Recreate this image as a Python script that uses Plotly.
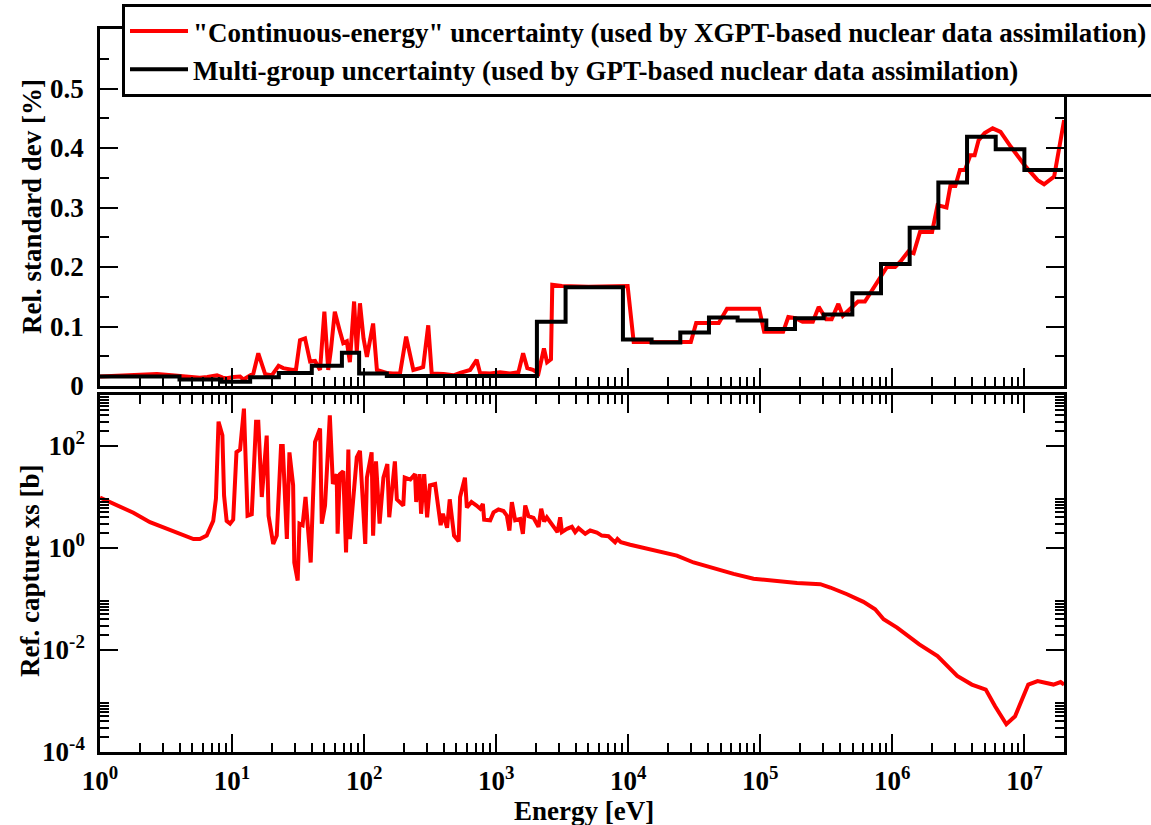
import math
import plotly.graph_objects as go

# ---------------- data ----------------
# Multi-group structure (group boundaries, eV) and multi-group uncertainty (%)
mg_edges = [1.0, 4.0, 8.315, 13.71, 22.60, 40.17, 67.90, 91.66, 148.6, 304.3, 454.0,
            748.5, 1234.0, 2035.0, 3355.0, 5531.0, 9119.0, 15030.0, 24790.0, 40870.0,
            67380.0, 111100.0, 183200.0, 302000.0, 497900.0, 820800.0, 1.353e6,
            2.231e6, 3.679e6, 6.065e6, 1.0e7, 1.964e7]
mg_unc = [0.016, 0.011, 0.007, 0.0146, 0.022, 0.034, 0.056, 0.021, 0.017, 0.017, 0.017,
          0.017, 0.017, 0.108, 0.166, 0.166, 0.078, 0.073, 0.090, 0.115, 0.110, 0.096,
          0.114, 0.120, 0.156, 0.205, 0.266, 0.342, 0.419, 0.398, 0.363]

# "Continuous-energy" uncertainty (%)
ce_energy = [1.0, 1.5, 2.0, 2.7, 3.5, 4.2, 5.0, 5.7, 6.5, 7.7, 8.5, 9.1, 10.3, 11.5, 12.2,
             13.5, 14.5, 15.8, 17.8, 20.0, 22.5, 24.4, 26.6, 29.0, 30.5, 32.7, 35.7, 39.0,
             42.5, 46.4, 50.0, 53.5, 56.0, 60.0, 65.0, 69.5, 74.0, 78.0, 84.0, 88.0, 93.0,
             99.0, 105.0, 117.0, 125.0, 135.0, 148.0, 165.0, 187.0, 208.0, 236.0, 265.0,
             280.0, 306.0, 325.0, 400.0, 475.0, 533.0, 635.0, 712.0, 755.0, 900.0, 1070.0,
             1275.0, 1475.0, 1600.0, 1720.0, 1900.0, 2090.0, 2300.0, 2430.0, 2600.0,
             2660.0, 3150.0, 5000.0, 9900.0, 11000.0, 29800.0, 32700.0, 48500.0, 56000.0,
             98000.0, 107000.0, 149000.0, 163000.0, 185000.0, 209000.0, 250000.0,
             277000.0, 316000.0, 347000.0, 390000.0, 422000.0, 465000.0, 550000.0,
             620000.0, 730000.0, 830000.0, 910000.0, 1.05e6, 1.15e6, 1.32e6, 1.45e6,
             1.62e6, 2.0e6, 2.2e6, 2.57e6, 2.75e6, 3.0e6, 3.25e6, 3.55e6, 3.9e6, 4.2e6,
             4.5e6, 5.0e6, 5.75e6, 6.6e6, 7.9e6, 1.02e7, 1.26e7, 1.41e7, 1.68e7, 1.84e7,
             2.0e7]
ce_unc = [0.016, 0.018, 0.020, 0.020, 0.018, 0.016, 0.014, 0.014, 0.015, 0.018, 0.014,
          0.013, 0.015, 0.016, 0.011, 0.016, 0.021, 0.055, 0.020, 0.018, 0.034, 0.030,
          0.028, 0.027, 0.028, 0.077, 0.080, 0.041, 0.042, 0.027, 0.125, 0.027, 0.060,
          0.125, 0.095, 0.072, 0.075, 0.040, 0.142, 0.058, 0.139, 0.080, 0.049, 0.105,
          0.027, 0.024, 0.022, 0.021, 0.021, 0.083, 0.027, 0.030, 0.032, 0.102, 0.021,
          0.020, 0.018, 0.022, 0.027, 0.044, 0.022, 0.021, 0.023, 0.021, 0.023, 0.055,
          0.030, 0.027, 0.021, 0.063, 0.040, 0.045, 0.170, 0.168, 0.167, 0.168, 0.074,
          0.074, 0.106, 0.106, 0.130, 0.130, 0.091, 0.091, 0.116, 0.114, 0.108, 0.108,
          0.133, 0.112, 0.112, 0.138, 0.118, 0.127, 0.142, 0.142, 0.167, 0.189, 0.200,
          0.200, 0.209, 0.226, 0.223, 0.259, 0.259, 0.304, 0.300, 0.336, 0.336, 0.363,
          0.363, 0.388, 0.388, 0.413, 0.425, 0.433, 0.427, 0.402, 0.369, 0.346, 0.339,
          0.352, 0.402, 0.447]

# Reference capture cross section (b)
xs_energy = [1.0, 1.3, 1.79, 2.39, 3.2, 4.27, 5.1, 5.7, 6.43, 7.2, 7.55, 7.9, 8.45, 8.7,
             9.1, 9.66, 10.2, 10.8, 11.5, 12.3, 13.1, 14.1, 15.2, 15.8, 16.8, 18.3, 18.9,
             20.5, 21.8, 23.5, 24.2, 26.0, 27.2, 29.0, 29.6, 31.4, 32.4, 34.2, 36.0, 39.4,
             42.5, 46.4, 47.8, 50.6, 55.0, 58.0, 62.0, 63.0, 65.5, 69.5, 73.0, 76.0, 78.0,
             88.0, 93.0, 102.0, 105.0, 114.0, 117.0, 123.0, 131.0, 140.0, 150.0, 155.0,
             171.0, 177.0, 198.0, 203.0, 224.0, 243.0, 248.0, 263.0, 270.0, 285.0, 300.0,
             315.0, 345.0, 380.0, 395.0, 425.0, 445.0, 480.0, 520.0, 533.0, 580.0, 600.0,
             650.0, 710.0, 757.0, 793.0, 811.0, 901.0, 955.0, 1040.0, 1136.0, 1205.0,
             1260.0, 1315.0, 1393.0, 1520.0, 1593.0, 1660.0, 1758.0, 1918.0, 2092.0,
             2193.0, 2310.0, 2420.0, 2643.0, 2914.0, 3053.0, 3146.0, 3433.0, 3745.0,
             3965.0, 4203.0, 4726.0, 5152.0, 5790.0, 6313.0, 7085.0, 7950.0, 8290.0,
             8800.0, 10350.0, 13800.0, 17980.0, 23370.0, 31240.0, 44300.0, 62800.0,
             88900.0, 126000.0, 190000.0, 285000.0, 339000.0, 454000.0, 604000.0,
             741000.0, 859000.0, 1.086e6, 1.6e6, 2.2e6, 3.1e6, 4.0e6, 5.1e6, 6.0e6,
             7.3e6, 8.5e6, 1.07e7, 1.26e7, 1.66e7, 1.88e7, 2.0e7]
xs_capture = [9.8, 7.2, 4.9, 3.2, 2.37, 1.75, 1.50, 1.50, 1.75, 3.4, 9.2, 300.0, 162.0,
              10.7, 3.4, 3.0, 3.6, 76.0, 85.0, 540.0, 4.3, 4.6, 300.0, 300.0, 10.0, 160.0,
              4.3, 1.2, 1.75, 100.0, 100.0, 1.5, 75.0, 17.0, 0.52, 0.23, 3.0, 2.8, 10.0,
              0.52, 120.0, 220.0, 3.0, 6.8, 400.0, 18.0, 28.0, 1.9, 28.0, 32.0, 0.82, 85.0,
              1.5, 60.0, 80.0, 1.2, 24.0, 75.0, 1.75, 50.0, 3.0, 24.0, 44.0, 4.0, 50.0,
              9.0, 6.8, 24.0, 22.0, 28.0, 8.0, 28.0, 4.7, 28.0, 4.0, 17.0, 18.0, 2.8, 4.7,
              2.5, 9.0, 1.75, 1.35, 10.0, 24.0, 6.2, 8.0, 6.8, 5.9, 7.3, 3.6, 3.5, 5.0,
              5.7, 5.3, 4.3, 2.2, 7.9, 3.5, 3.7, 1.9, 6.8, 4.2, 3.9, 2.6, 5.9, 3.3, 4.0,
              3.0, 2.05, 4.0, 2.05, 2.37, 2.6, 2.05, 2.45, 1.9, 2.2, 2.0, 1.75, 1.7, 1.29,
              1.5, 1.3, 1.16, 0.99, 0.82, 0.71, 0.52, 0.40, 0.31, 0.25, 0.23, 0.205, 0.195,
              0.168, 0.124, 0.088, 0.063, 0.040, 0.0275, 0.0129, 0.0076, 0.0031, 0.0021,
              0.00167, 0.00079, 0.00035, 0.0005, 0.0021, 0.00245, 0.0021, 0.00235, 0.0021]

x_tick_exps = [0, 1, 2, 3, 4, 5, 6, 7]
y2_tick_exps = [-4, -2, 0, 2]
y1_ticks = [0, 0.1, 0.2, 0.3, 0.4, 0.5]
y1_ticklabels = ["0", "0.1", "0.2", "0.3", "0.4", "0.5"]

legend_ce = '"Continuous-energy" uncertainty (used by XGPT-based nuclear data assimilation)'
legend_mg = 'Multi-group uncertainty (used by GPT-based nuclear data assimilation)'
title_y1 = "Rel. standard dev [%]"
title_y2 = "Ref. capture xs [b]"
title_x = "Energy [eV]"

# ---------------- figure ----------------
FONT = "Liberation Serif"
FS = 27
W, H = 1151, 825
ML, MR, MT, MB = 100, 87, 29, 73
plot_w = W - ML - MR
plot_h = H - MT - MB
top_bottom_px = 386
bottom_top_px = 395


def px_x(px):
    return (px - ML) / plot_w


def px_y(py):
    return (H - MB - py) / plot_h


x_minor = [k * 10 ** n for n in range(0, 8) for k in range(2, 10) if k * 10 ** n <= 2e7]
y2_minor = [k * 10.0 ** n for n in y2_tick_exps for k in range(2, 10)]

fig = go.Figure()

mg_x = list(mg_edges)
mg_y = list(mg_unc) + [mg_unc[-1]]

fig.add_trace(go.Scatter(x=ce_energy, y=ce_unc, mode="lines", name=legend_ce,
                         line=dict(color="#ff0000", width=4), xaxis="x", yaxis="y"))
fig.add_trace(go.Scatter(x=mg_x, y=mg_y, mode="lines", name=legend_mg,
                         line=dict(color="#000000", width=4, shape="hv"),
                         xaxis="x", yaxis="y"))
fig.add_trace(go.Scatter(x=xs_energy, y=xs_capture, mode="lines", showlegend=False,
                         line=dict(color="#ff0000", width=4), xaxis="x2", yaxis="y2"))

xr = [0, 7.30]
common_axis = dict(showline=True, linecolor="black", linewidth=2.5, mirror="ticks",
                   ticks="inside", ticklen=18, tickwidth=2, tickcolor="black",
                   showgrid=False, zeroline=False)
tick_font = dict(size=FS, family=FONT, weight="bold", color="black")
title_font = dict(size=FS, family=FONT, weight="bold", color="black")
minor_common = dict(ticks="inside", ticklen=9, tickwidth=2, tickcolor="black",
                    showgrid=False)

fig.update_layout(
    width=W, height=H,
    margin=dict(l=ML, r=MR, t=MT, b=MB, autoexpand=False),
    paper_bgcolor="white", plot_bgcolor="white",
    font=dict(family=FONT, size=FS, color="black", weight="bold"),
    xaxis=dict(type="log", range=xr, anchor="y", matches="x2",
               tickmode="array", tickvals=[10 ** e for e in x_tick_exps],
               showticklabels=False,
               minor=dict(tickmode="array", tickvals=x_minor, **minor_common),
               **common_axis),
    yaxis=dict(domain=[px_y(top_bottom_px), 1], range=[0, 0.6],
               anchor="x", tickmode="array", tickvals=y1_ticks, ticktext=y1_ticklabels,
               tickfont=tick_font, ticklabelstandoff=8,
               minor=dict(dtick=0.05, **minor_common),
               **common_axis),
    xaxis2=dict(type="log", range=xr, anchor="y2",
                tickmode="array", tickvals=[10 ** e for e in x_tick_exps],
                ticktext=["10<sup>%d</sup>" % e for e in x_tick_exps],
                tickfont=tick_font, ticklabelstandoff=3,
                minor=dict(tickmode="array", tickvals=x_minor, **minor_common),
                **common_axis),
    yaxis2=dict(type="log", domain=[0, px_y(bottom_top_px)], range=[-4, 3],
                anchor="x2", tickmode="array",
                tickvals=[10.0 ** e for e in y2_tick_exps],
                ticktext=["10<sup>%d</sup>" % e for e in y2_tick_exps],
                tickfont=tick_font, ticklabelstandoff=7,
                minor=dict(tickmode="array", tickvals=y2_minor, **minor_common),
                **common_axis),
    legend=dict(x=px_x(122), y=px_y(4),
                xanchor="left", yanchor="top",
                bgcolor="white", bordercolor="black", borderwidth=3,
                font=dict(size=FS, family=FONT, weight="bold", color="black"),
                itemwidth=58, tracegroupgap=0),
    showlegend=True,
)

# axis titles
fig.add_annotation(text=title_y1, textangle=-90, xref="paper", yref="paper",
                   x=px_x(32), y=px_y(207), xanchor="center", yanchor="middle",
                   showarrow=False, font=title_font)
fig.add_annotation(text=title_y2, textangle=-90, xref="paper", yref="paper",
                   x=px_x(30), y=px_y(571), xanchor="center", yanchor="middle",
                   showarrow=False, font=title_font)
fig.add_annotation(text=title_x, xref="paper", yref="paper",
                   x=px_x(584), y=px_y(811), xanchor="center", yanchor="middle",
                   showarrow=False, font=title_font)

fig.write_html("out.html")
